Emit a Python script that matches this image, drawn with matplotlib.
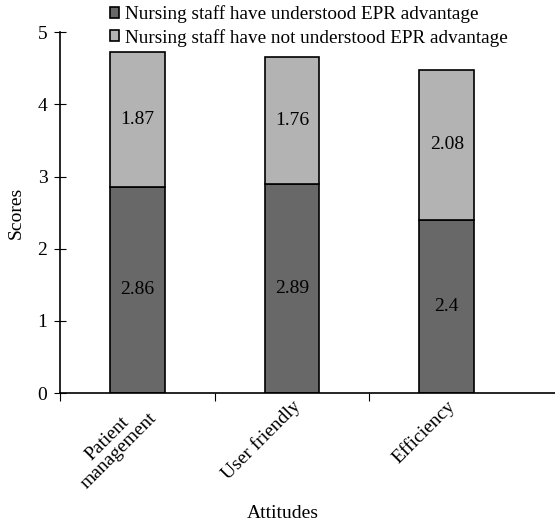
import numpy as np
import matplotlib.pyplot as plt

plt.rcParams['font.family'] = ['Liberation Serif', 'DejaVu Serif']

categories = ['Patient\nmanagement', 'User friendly', 'Efficiency']
understood = [2.86, 2.89, 2.4]
not_understood = [1.87, 1.76, 2.08]

fig = plt.figure(figsize=(5.55, 5.25), dpi=100)
ax = fig.add_axes([0.108, 0.251, 0.892, 0.688])

x = np.arange(len(categories))
w = 0.355
b1 = ax.bar(x, understood, w, color='#686868', edgecolor='black', linewidth=1.2,
            label='Nursing staff have understood EPR advantage')
b2 = ax.bar(x, not_understood, w, bottom=understood, color='#b3b3b3', edgecolor='black',
            linewidth=1.2, label='Nursing staff have not understood EPR advantage')

for i in range(len(x)):
    ax.text(x[i], understood[i] / 2, str(understood[i]), ha='center', va='center', fontsize=14)
    ax.text(x[i], understood[i] + not_understood[i] / 2, str(not_understood[i]),
            ha='center', va='center', fontsize=14)

ax.set_xlim(-0.5, 2.7)
ax.set_ylim(0, 5)
ax.set_yticks(range(6))
ax.tick_params(axis='y', direction='inout', length=8, labelsize=14, pad=5)
ax.set_xticks([-0.5, 0.5, 1.5])
ax.set_xticklabels([])
ax.tick_params(axis='x', direction='out', length=6)
for i, c in enumerate(categories):
    ax.text(x[i] - 0.005, -0.06, c, rotation=45, ha='right', va='top', rotation_mode='anchor',
            multialignment='center', fontsize=14, linespacing=1.0)

ax.spines['top'].set_visible(False)
ax.spines['right'].set_visible(False)
ax.spines['left'].set_linewidth(1.2)
ax.spines['bottom'].set_linewidth(1.2)

ax.set_ylabel('Scores', fontsize=14, labelpad=9)
fig.text(0.51, 0.013, 'Attitudes', ha='center', fontsize=14)

fig.legend(handles=[b1, b2], loc='upper left', bbox_to_anchor=(0.198, 0.99), frameon=False,
           fontsize=13.8, handlelength=0.5, handleheight=0.5, handletextpad=0.3, labelspacing=0.3,
           borderpad=0, borderaxespad=0)

fig.savefig('out.png', dpi=100)
